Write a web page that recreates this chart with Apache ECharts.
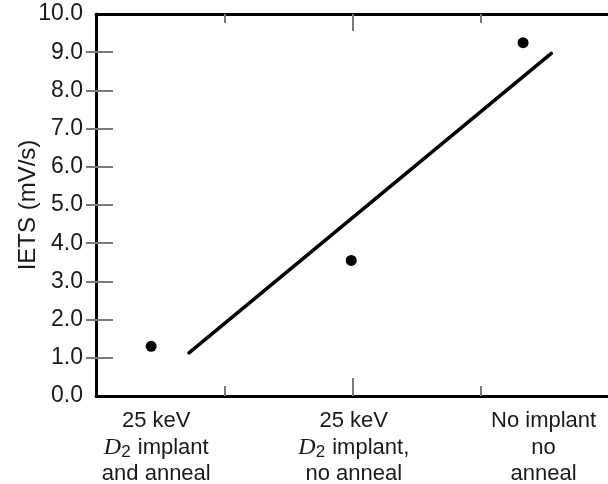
<!DOCTYPE html>
<html>
<head>
<meta charset="utf-8">
<script src="https://cdn.jsdelivr.net/npm/echarts@6/dist/echarts.min.js"></script>
<style>
  html, body { margin: 0; padding: 0; background: #fff; }
  #chart { width: 608px; height: 484px; }
</style>
</head>
<body>
<div id="chart"></div>
<script>
// Sample categories and where their labels sit along the x scale
const categoryLines = [
  ['25 keV', '{d|D}{s|2} implant', 'and anneal'],
  ['25 keV', '{d|D}{s|2} implant,', 'no anneal'],
  ['No implant', 'no', 'anneal']
];
const categoryPos = [0.47, 2.01, 3.49];

// Measured IETS values (mV/s) at each sample position
const pointX = [0.43, 1.99, 3.33];
const pointY = [1.3, 3.55, 9.25];

// Fitted trend line end points
const fitX = [0.725, 3.55];
const fitY = [1.13, 8.97];

// Y tick labels
const yTicks = [0, 1, 2, 3, 4, 5, 6, 7, 8, 9, 10];

const FONT = '"Liberation Sans", Arial, Helvetica, sans-serif';
const TICK = '#7a7a7a';
const INK = '#1a1a1a';

const chart = echarts.init(document.getElementById('chart'), null, { renderer: 'canvas' });

function xAxisBase(pos, ticks, len, withLine, withLabels) {
  return {
    type: 'value', position: pos, min: 0, max: 4, gridIndex: 0,
    axisLine: { show: withLine, onZero: false, lineStyle: { color: '#000', width: 3 } },
    axisTick: { show: true, inside: true, length: len, customValues: ticks,
                lineStyle: { color: TICK, width: 2 } },
    splitLine: { show: false },
    axisLabel: withLabels ? {
      show: true, customValues: categoryPos, margin: 12,
      formatter: v => {
        const i = categoryPos.findIndex(p => Math.abs(p - v) < 1e-6);
        return i < 0 ? '' : categoryLines[i].join('\n');
      },
      color: INK, fontFamily: FONT, fontSize: 22, lineHeight: 26.5, align: 'center',
      rich: {
        d: { fontFamily: '"Liberation Serif", "DejaVu Serif", serif', fontStyle: 'italic',
             fontSize: 24, color: INK, lineHeight: 26.5 },
        s: { fontFamily: FONT, fontSize: 17, color: INK, padding: [10, 1, 0, 0], lineHeight: 26.5 }
      }
    } : { show: false }
  };
}

const option = {
  backgroundColor: '#fff',
  animation: false,
  grid: { left: 96, right: -1, top: 14, bottom: 88, containLabel: false, outerBoundsMode: 'none' },
  xAxis: [
    xAxisBase('bottom', [1, 3], 10, true, true),
    xAxisBase('bottom', [2], 18, false, false),
    xAxisBase('top', [1, 3], 9, true, false),
    xAxisBase('top', [2], 17, false, false)
  ],
  yAxis: [
    {
      type: 'value', position: 'left', min: 0, max: 10, interval: 1,
      name: 'IETS (mV/s)', nameLocation: 'middle', nameGap: 56, nameMoveOverlap: false,
      nameTextStyle: { fontFamily: FONT, fontSize: 24, color: INK },
      axisLine: { show: true, lineStyle: { color: '#000', width: 3 } },
      axisTick: { show: true, inside: true, length: 17, customValues: yTicks.slice(1, -1),
                  lineStyle: { color: TICK, width: 2 } },
      splitLine: { show: false },
      axisLabel: { show: true, customValues: yTicks, margin: 13, formatter: v => v.toFixed(1),
                   fontFamily: FONT, fontSize: 23, color: INK }
    },
    {
      type: 'value', position: 'right', min: 0, max: 10, interval: 1,
      axisLine: { show: false },
      axisTick: { show: true, inside: true, length: 10, customValues: yTicks.slice(1, -1),
                  lineStyle: { color: TICK, width: 2 } },
      splitLine: { show: false },
      axisLabel: { show: false }
    }
  ],
  series: [
    {
      type: 'line', xAxisIndex: 0, yAxisIndex: 0,
      data: fitX.map((x, i) => [x, fitY[i]]),
      symbol: 'none', lineStyle: { color: '#000', width: 3.5, cap: 'round' }, silent: true
    },
    {
      type: 'scatter', xAxisIndex: 0, yAxisIndex: 0,
      data: pointX.map((x, i) => [x, pointY[i]]),
      symbol: 'circle', symbolSize: 11, itemStyle: { color: '#000', opacity: 1 }
    }
  ]
};

chart.setOption(option);
</script>
</body>
</html>
